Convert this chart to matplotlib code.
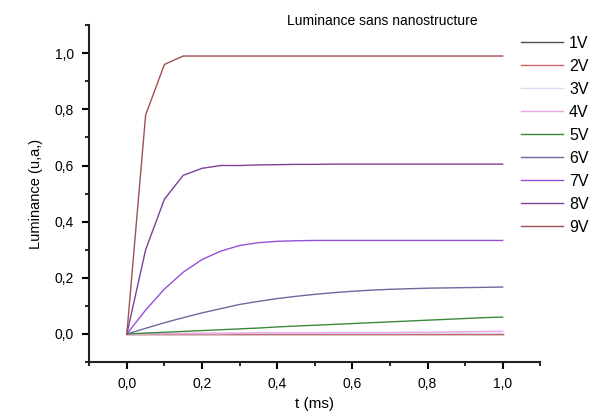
import numpy as np
import matplotlib
matplotlib.use('Agg')
from matplotlib import pyplot as plt
from matplotlib.ticker import MultipleLocator, FuncFormatter

plt.rcParams['font.family'] = ['Liberation Sans', 'DejaVu Sans']

t = [0.0, 0.05, 0.1, 0.15, 0.2, 0.25, 0.3, 0.35, 0.4, 0.45, 0.5,
     0.55, 0.6, 0.65, 0.7, 0.75, 0.8, 0.85, 0.9, 0.95, 1.0]

lum1 = [0.0] * 21
lum2 = [0.0] * 21
lum3 = [0.0, 0.0, 0.001, 0.001, 0.001, 0.001, 0.002, 0.002, 0.002, 0.002, 0.002,
        0.002, 0.002, 0.002, 0.002, 0.002, 0.003, 0.003, 0.003, 0.003, 0.003]
lum4 = [0.0, 0.001, 0.002, 0.002, 0.003, 0.003, 0.003, 0.004, 0.004, 0.004, 0.004,
        0.005, 0.005, 0.005, 0.005, 0.006, 0.006, 0.007, 0.008, 0.009, 0.010]
lum5 = [0.0, 0.003, 0.006, 0.009, 0.012, 0.015, 0.018, 0.021, 0.025, 0.028, 0.031,
        0.034, 0.037, 0.040, 0.043, 0.046, 0.049, 0.052, 0.055, 0.058, 0.060]
lum6 = [0.0, 0.02, 0.04, 0.058, 0.075, 0.09, 0.105, 0.116, 0.126, 0.134, 0.141,
        0.147, 0.152, 0.156, 0.159, 0.161, 0.163, 0.164, 0.165, 0.166, 0.167]
lum7 = [0.0, 0.085, 0.16, 0.22, 0.265, 0.295, 0.315, 0.325, 0.33, 0.332, 0.333,
        0.333, 0.333, 0.333, 0.333, 0.333, 0.333, 0.333, 0.333, 0.333, 0.333]
lum8 = [0.0, 0.30, 0.48, 0.565, 0.59, 0.60, 0.60, 0.602, 0.603, 0.604, 0.604,
        0.605, 0.605, 0.605, 0.605, 0.605, 0.605, 0.605, 0.605, 0.605, 0.605]
lum9 = [0.0, 0.78, 0.96, 0.99, 0.99, 0.99, 0.99, 0.99, 0.99, 0.99, 0.99,
        0.99, 0.99, 0.99, 0.99, 0.99, 0.99, 0.99, 0.99, 0.99, 0.99]

labels = ['1V', '2V', '3V', '4V', '5V', '6V', '7V', '8V', '9V']
colors = ['#50505e', '#c86464', '#dcdcf0', '#e8a8e8', '#3a8a3a',
          '#6a6a9c', '#9450d8', '#7c4098', '#a05050']
series = [lum1, lum2, lum3, lum4, lum5, lum6, lum7, lum8, lum9]

fig = plt.figure(figsize=(5.95, 4.19), dpi=100)
ax = fig.add_axes([0.150, 0.136, 0.758, 0.804])

for ys, lab, col in zip(series, labels, colors):
  ax.plot(t, ys, color=col, lw=1.0, label=lab)

ax.set_xlim(-0.1, 1.1)
ax.set_ylim(-0.1, 1.1)
ax.xaxis.set_major_locator(MultipleLocator(0.2))
ax.xaxis.set_minor_locator(MultipleLocator(0.1))
ax.yaxis.set_major_locator(MultipleLocator(0.2))
ax.yaxis.set_minor_locator(MultipleLocator(0.1))
comma = FuncFormatter(lambda v, p: ('%.1f' % v).replace('.', ','))
ax.xaxis.set_major_formatter(comma)
ax.yaxis.set_major_formatter(comma)

for s in ['top', 'right']:
  ax.spines[s].set_visible(False)
for s in ['left', 'bottom']:
  ax.spines[s].set_linewidth(1.5)
  ax.spines[s].set_color('#222222')
ax.tick_params(which='major', direction='out', length=5, width=1.5, labelsize=10, pad=6)
ax.tick_params(which='minor', direction='out', length=3, width=1.2)

ax.set_xlabel('t (ms)', fontsize=11)
ax.set_ylabel('Luminance (u,a,)', fontsize=10.5, labelpad=8)
fig.text(0.642, 0.95, 'Luminance sans nanostructure', ha='center', va='center', fontsize=10)

ax.legend(loc='upper left', bbox_to_anchor=(0.865, 0.93), bbox_transform=fig.transFigure,
          frameon=False, fontsize=11.5, handlelength=2.6, handletextpad=0.4,
          labelspacing=0.5, borderaxespad=0)

fig.savefig('out.png', dpi=100)
